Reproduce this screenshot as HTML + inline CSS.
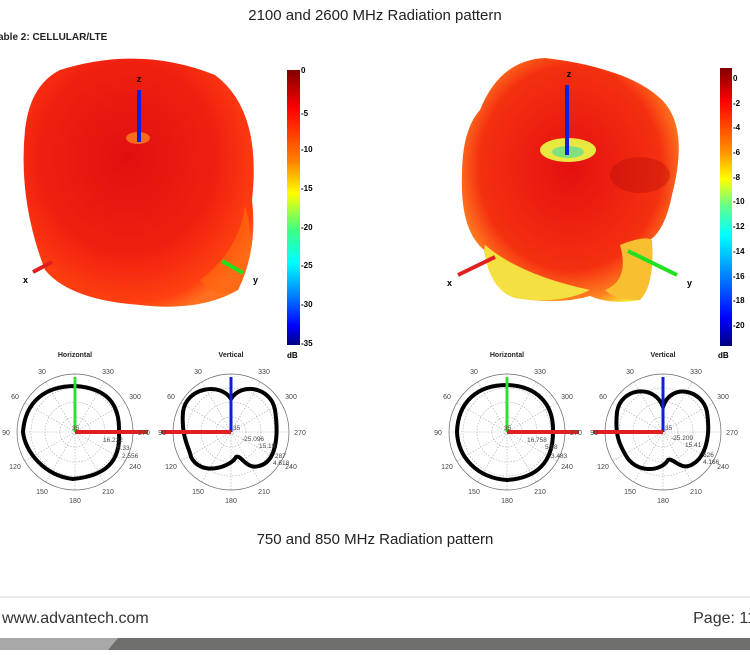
<!DOCTYPE html>
<html><head><style>
body{margin:0;width:750px;height:650px;background:#fff;overflow:hidden;font-family:"Liberation Sans",sans-serif}
</style></head><body>
<svg width="750" height="650" viewBox="0 0 750 650" xmlns="http://www.w3.org/2000/svg" font-family="Liberation Sans, sans-serif">
<defs>
<linearGradient id="cbL" x1="0" y1="0" x2="0" y2="1">
<stop offset="0" stop-color="#800000"/><stop offset="0.14" stop-color="#ff0000"/><stop offset="0.33" stop-color="#ff8000"/><stop offset="0.45" stop-color="#ffff00"/><stop offset="0.58" stop-color="#40ff80"/><stop offset="0.7" stop-color="#00ffff"/><stop offset="0.82" stop-color="#0080ff"/><stop offset="0.93" stop-color="#0000ff"/><stop offset="1" stop-color="#000080"/>
</linearGradient>
<radialGradient id="bL" cx="0.45" cy="0.4" r="0.65">
<stop offset="0" stop-color="#e01010"/><stop offset="0.6" stop-color="#f02010"/><stop offset="0.9" stop-color="#ff4010"/><stop offset="1" stop-color="#ff7020"/>
</radialGradient>
<radialGradient id="bR" cx="0.5" cy="0.45" r="0.6">
<stop offset="0" stop-color="#e41010"/><stop offset="0.7" stop-color="#f53010"/><stop offset="0.9" stop-color="#ff8020"/><stop offset="1" stop-color="#f5e030"/>
</radialGradient>
</defs>
<text x="375" y="20" font-size="15" text-anchor="middle" fill="#222">2100 and 2600 MHz Radiation pattern</text>
<text x="-2" y="40" font-size="10" font-weight="bold" fill="#222">able 2: CELLULAR/LTE</text>

<path d="M60 70 Q140 45 215 75 Q262 110 252 200 Q258 250 238 290 Q200 312 140 305 Q70 300 45 270 Q18 200 25 130 Q30 85 60 70Z" fill="url(#bL)"/>
<path d="M200 280 Q240 250 245 205 Q258 250 238 290 Q215 300 200 280Z" fill="#ff6a10" opacity="0.7"/>
<ellipse cx="138" cy="138" rx="12" ry="6" fill="#ff8020" opacity="0.8"/>
<line x1="139" y1="90" x2="139" y2="142" stroke="#1020e0" stroke-width="4"/>
<text x="139" y="82" font-size="9" font-weight="bold" text-anchor="middle">z</text>
<line x1="33" y1="272" x2="52" y2="262" stroke="#e02020" stroke-width="4"/>
<text x="23" y="283" font-size="9" font-weight="bold">x</text>
<line x1="222" y1="261" x2="243" y2="273" stroke="#20e020" stroke-width="4"/>
<text x="253" y="283" font-size="9" font-weight="bold">y</text>
<rect x="287" y="70" width="13" height="275" fill="url(#cbL)"/>
<g font-size="8" font-weight="bold">
<text x="301" y="73">0</text><text x="301" y="116">-5</text><text x="301" y="152">-10</text><text x="301" y="191">-15</text><text x="301" y="230">-20</text><text x="301" y="268">-25</text><text x="301" y="307">-30</text><text x="301" y="346">-35</text>
<text x="287" y="358">dB</text></g>

<path d="M480 110 Q500 60 545 58 Q580 62 605 70 Q640 80 660 98 Q690 125 672 195 Q665 230 650 240 Q655 285 640 300 Q610 305 590 296 Q560 305 515 298 Q490 290 484 250 Q460 230 462 175 Q462 130 480 110Z" fill="url(#bR)"/>
<path d="M485 245 Q520 275 590 290 Q560 305 515 298 Q490 290 484 250Z" fill="#f4e040"/>
<path d="M620 245 Q645 235 652 240 Q655 285 640 300 Q615 300 605 290 Q630 280 620 245Z" fill="#f8c030"/>
<ellipse cx="568" cy="150" rx="28" ry="12" fill="#e8e840"/>
<ellipse cx="568" cy="152" rx="16" ry="6" fill="#80e080"/>
<ellipse cx="640" cy="175" rx="30" ry="18" fill="#b00808" opacity="0.35"/>
<line x1="567" y1="85" x2="567" y2="155" stroke="#1020e0" stroke-width="4"/>
<text x="569" y="77" font-size="9" font-weight="bold" text-anchor="middle">z</text>
<line x1="458" y1="275" x2="495" y2="257" stroke="#e02020" stroke-width="4"/>
<text x="447" y="286" font-size="9" font-weight="bold">x</text>
<line x1="628" y1="251" x2="677" y2="275" stroke="#20e020" stroke-width="4"/>
<text x="687" y="286" font-size="9" font-weight="bold">y</text>
<linearGradient id="cbR" x1="0" y1="0" x2="0" y2="1">
<stop offset="0" stop-color="#800000"/><stop offset="0.12" stop-color="#ff0000"/><stop offset="0.3" stop-color="#ff9000"/><stop offset="0.4" stop-color="#ffff00"/><stop offset="0.5" stop-color="#60ff90"/><stop offset="0.6" stop-color="#00ffff"/><stop offset="0.75" stop-color="#0080ff"/><stop offset="0.9" stop-color="#0000ff"/><stop offset="1" stop-color="#000080"/>
</linearGradient>
<rect x="720" y="68" width="12" height="278" fill="url(#cbR)"/>
<g font-size="8" font-weight="bold">
<text x="733" y="81">0</text><text x="733" y="106">-2</text><text x="733" y="130">-4</text><text x="733" y="155">-6</text><text x="733" y="180">-8</text><text x="733" y="204">-10</text><text x="733" y="229">-12</text><text x="733" y="254">-14</text><text x="733" y="279">-16</text><text x="733" y="303">-18</text><text x="733" y="328">-20</text>
<text x="718" y="358">dB</text></g>

<g transform="translate(75,432)">
<circle r="58" fill="none" stroke="#666" stroke-width="0.7"/>
<g fill="none" stroke="#aaa" stroke-width="0.6" stroke-dasharray="1.5,1.5"><circle r="44"/><circle r="30"/><circle r="15"/>
<path d="M0-58V58M-58 0H58M-29-50L29 50M29-50L-29 50M-50-29L50 29M50-29L-50 29"/></g>
<path d="M0-46 C30-44 45-30 44 0 C46 30 30 44 -2 47 C-30 44 -50 20 -52 0 C-50 -30 -30 -46 0 -46Z" fill="none" stroke="#000" stroke-width="4"/>
<line x1="0" y1="0" x2="0" y2="-55" stroke="#30e030" stroke-width="3"/>
<line x1="0" y1="0" x2="73" y2="0" stroke="#e02020" stroke-width="4"/>
<g font-size="6.5" fill="#444"><text x="-3" y="-2">35</text><text x="28" y="10">16.222</text><text x="42" y="18">5.33</text><text x="47" y="26">2.556</text></g>
</g>
<g transform="translate(231,432)">
<circle r="58" fill="none" stroke="#666" stroke-width="0.7"/>
<g fill="none" stroke="#aaa" stroke-width="0.6" stroke-dasharray="1.5,1.5"><circle r="44"/><circle r="30"/><circle r="15"/>
<path d="M0-58V58M-58 0H58M-29-50L29 50M29-50L-29 50M-50-29L50 29M50-29L-50 29"/></g>
<path d="M0-33 C10-50 40-45 44-22 C48 5 45 30 28 34 C15 38 10 22 5 25 C0 35 -30 45 -40 25 C-42 15 -50 5 -48 -20 C-45 -45 -10-50 0-33Z" fill="none" stroke="#000" stroke-width="4"/>
<line x1="0" y1="0" x2="0" y2="-55" stroke="#1020d0" stroke-width="3"/>
<line x1="0" y1="0" x2="-70" y2="0" stroke="#e02020" stroke-width="4"/>
<g font-size="6.5" fill="#444"><text x="2" y="-2">35</text><text x="11" y="9">-25.096</text><text x="28" y="16">15.19</text><text x="44" y="26">287</text><text x="42" y="33">4.618</text></g>
</g>
<g transform="translate(507,432)">
<circle r="58" fill="none" stroke="#666" stroke-width="0.7"/>
<g fill="none" stroke="#aaa" stroke-width="0.6" stroke-dasharray="1.5,1.5"><circle r="44"/><circle r="30"/><circle r="15"/>
<path d="M0-58V58M-58 0H58M-29-50L29 50M29-50L-29 50M-50-29L50 29M50-29L-50 29"/></g>
<path d="M0-47 C30-46 47-28 46 0 C46 30 30 46 0 48 C-30 46 -49 25 -50 0 C-49 -30 -30 -47 0 -47Z" fill="none" stroke="#000" stroke-width="4"/>
<line x1="0" y1="0" x2="0" y2="-55" stroke="#30e030" stroke-width="3"/>
<line x1="0" y1="0" x2="72" y2="0" stroke="#e02020" stroke-width="4"/>
<g font-size="6.5" fill="#444"><text x="-3" y="-2">35</text><text x="20" y="10">16.758</text><text x="38" y="17">5.98</text><text x="44" y="26">3.483</text></g>
</g>
<g transform="translate(663,432)">
<circle r="58" fill="none" stroke="#666" stroke-width="0.7"/>
<g fill="none" stroke="#aaa" stroke-width="0.6" stroke-dasharray="1.5,1.5"><circle r="44"/><circle r="30"/><circle r="15"/>
<path d="M0-58V58M-58 0H58M-29-50L29 50M29-50L-29 50M-50-29L50 29M50-29L-50 29"/></g>
<path d="M0-25 C8-50 40-42 44-20 C48 5 42 25 30 32 C18 40 10 25 5 28 C-2 40 -28 42 -38 22 C-45 10 -48 0 -46 -20 C-42 -45 -8-48 0-25Z" fill="none" stroke="#000" stroke-width="4"/>
<line x1="0" y1="0" x2="0" y2="-55" stroke="#1020d0" stroke-width="3"/>
<line x1="0" y1="0" x2="-70" y2="0" stroke="#e02020" stroke-width="4"/>
<g font-size="6.5" fill="#444"><text x="2" y="-2">35</text><text x="8" y="8">-25.209</text><text x="22" y="15">15.41</text><text x="40" y="25">626</text><text x="40" y="32">4.166</text></g>
</g>
<g font-size="7" fill="#444" text-anchor="middle">
<text x="75" y="357" font-weight="bold" fill="#222">Horizontal</text><text x="231" y="357" font-weight="bold" fill="#222">Vertical</text>
<text x="507" y="357" font-weight="bold" fill="#222">Horizontal</text><text x="663" y="357" font-weight="bold" fill="#222">Vertical</text>
<text x="42" y="374">30</text><text x="108" y="374">330</text><text x="15" y="399">60</text><text x="135" y="399">300</text><text x="6" y="435">90</text><text x="144" y="435">270</text><text x="15" y="469">120</text><text x="135" y="469">240</text><text x="42" y="494">150</text><text x="108" y="494">210</text><text x="75" y="503">180</text>
<text x="198" y="374">30</text><text x="264" y="374">330</text><text x="171" y="399">60</text><text x="291" y="399">300</text><text x="162" y="435">90</text><text x="300" y="435">270</text><text x="171" y="469">120</text><text x="291" y="469">240</text><text x="198" y="494">150</text><text x="264" y="494">210</text><text x="231" y="503">180</text>
<text x="474" y="374">30</text><text x="540" y="374">330</text><text x="447" y="399">60</text><text x="567" y="399">300</text><text x="438" y="435">90</text><text x="576" y="435">270</text><text x="447" y="469">120</text><text x="567" y="469">240</text><text x="474" y="494">150</text><text x="540" y="494">210</text><text x="507" y="503">180</text>
<text x="630" y="374">30</text><text x="696" y="374">330</text><text x="603" y="399">60</text><text x="723" y="399">300</text><text x="594" y="435">90</text><text x="732" y="435">270</text><text x="603" y="469">120</text><text x="723" y="469">240</text><text x="630" y="494">150</text><text x="696" y="494">210</text><text x="663" y="503">180</text>
</g>

<text x="375" y="544" font-size="15" text-anchor="middle" fill="#222">750 and 850 MHz Radiation pattern</text>
<rect x="0" y="596" width="750" height="2" fill="#e8e8e8"/>
<text x="2" y="623" font-size="16" fill="#333">www.advantech.com</text>
<text x="756" y="623" font-size="16" fill="#333" text-anchor="end">Page: 11</text>
<rect x="0" y="638" width="750" height="12" fill="#6e6e6a"/>
<polygon points="0,638 118,638 108,650 0,650" fill="#a8a8a8"/>
</svg>
</body></html>
